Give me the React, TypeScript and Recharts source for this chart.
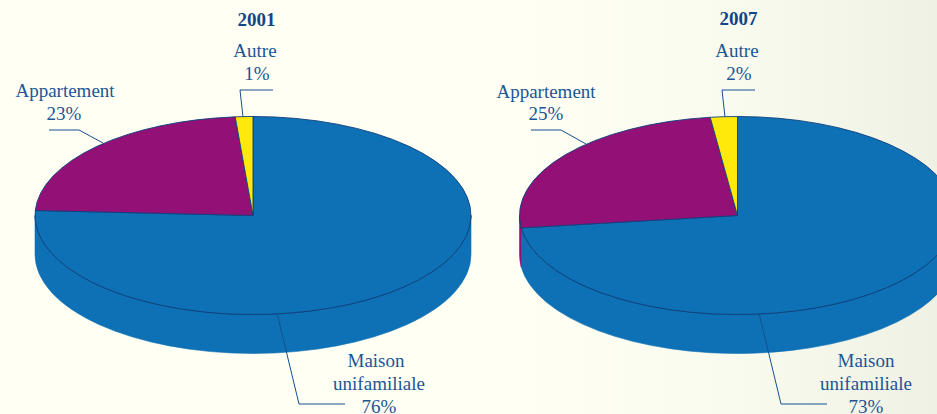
import { PieChart, Pie, Cell } from "recharts";

const CATEGORIES = ["Maison unifamiliale", "Appartement", "Autre"];
// slice sizes as measured on the picture; the printed labels are the rounded values
const VALUES_2001 = [75.8, 22.9, 1.3];
const VALUES_2007 = [73, 25, 2];
const COLORS = ["#0f71b5", "#931077", "#ffe90a"];

const data2001 = CATEGORIES.map((name, i) => ({ name, value: VALUES_2001[i] }));
const data2007 = CATEGORIES.map((name, i) => ({ name, value: VALUES_2007[i] }));

const TEXT_BLUE = "#1c5594";
const LINE_BLUE = "#14508f";
const EDGE = "#0d3f7c";
const FONT = "'Liberation Serif', serif";
const TILT = 99 / 218;
const DEPTH = 39;

// label text + leader line placement, by category index
const LABELS_2001 = [
  { lines: [["Maison", 376, 367], ["unifamiliale", 379, 390], ["76%", 379, 413]], leader: "277,313 299,404 345,404" },
  { lines: [["Appartement", 65, 97], ["23%", 64, 120]], leader: "49,130 79,130 103,143" },
  { lines: [["Autre", 255, 57], ["1%", 257, 80]], leader: "243,117 240,90 273,90" },
];
const LABELS_2007 = [
  { lines: [["Maison", 866, 367], ["unifamiliale", 866, 390], ["73%", 866, 413]], leader: "759,313 781,404 827,404" },
  { lines: [["Appartement", 546, 98], ["25%", 546, 120]], leader: "531,130 561,130 586,144" },
  { lines: [["Autre", 737, 57], ["2%", 739, 80]], leader: "725,117 722,90 755,90" },
];

// flattened 3D slice: top face is an ellipse sector, front rim is extruded down
function Slice3D(props: any) {
  const { cx, cy, outerRadius, startAngle, endAngle, fill } = props;
  const rx = outerRadius;
  const ry = outerRadius * TILT;
  const pt = (a: number, dy = 0) => {
    const r = (a * Math.PI) / 180;
    return `${(cx + rx * Math.cos(r)).toFixed(2)} ${(cy - ry * Math.sin(r) + dy).toFixed(2)}`;
  };
  const large = Math.abs(startAngle - endAngle) > 180 ? 1 : 0;
  const top = `M${cx} ${cy} L${pt(startAngle)} A${rx} ${ry} 0 ${large} 1 ${pt(endAngle)} Z`;

  // part of the slice that faces the viewer (angles 0 .. -180)
  const from = Math.min(startAngle, 0);
  const to = Math.max(endAngle, -180);
  const side =
    from > to
      ? `M${pt(from)} A${rx} ${ry} 0 0 1 ${pt(to)} L${pt(to, DEPTH)} A${rx} ${ry} 0 0 0 ${pt(from, DEPTH)} Z`
      : null;

  return (
    <g>
      {side && <path d={side} fill={fill} stroke={fill} strokeWidth={0.6} />}
      {side && <path d={`M${pt(from)} A${rx} ${ry} 0 0 1 ${pt(to)}`} fill="none" stroke={EDGE} strokeWidth={0.8} />}
      <path d={top} fill={fill} stroke={EDGE} strokeWidth={0.9} strokeLinejoin="round" />
    </g>
  );
}

const makeLabel = (table: typeof LABELS_2001) => (props: any) => {
  const item = table[props.index];
  return (
    <g key={props.index}>
      <polyline points={item.leader} fill="none" stroke={LINE_BLUE} strokeWidth={1} />
      {item.lines.map(([t, x, y]) => (
        <text key={t as string} x={x as number} y={y as number} textAnchor="middle" fontFamily={FONT} fontSize={19} fill={TEXT_BLUE}>
          {t}
        </text>
      ))}
    </g>
  );
};

export default function App() {
  return (
    <div
      style={{
        position: "fixed",
        left: 0,
        top: 0,
        width: 937,
        height: 414,
        overflow: "hidden",
        background: "linear-gradient(90deg, #fffff4 0%, #fffff4 55%, #fafbef 78%, #eef1e4 100%)",
      }}
    >
      <PieChart width={937} height={414} margin={{ top: 0, right: 0, bottom: 0, left: 0 }}>
        <text x={256.5} y={26} textAnchor="middle" fontFamily={FONT} fontWeight="bold" fontSize={19} fill="#0f4785">2001</text>
        <text x={738.5} y={25} textAnchor="middle" fontFamily={FONT} fontWeight="bold" fontSize={19} fill="#0f4785">2007</text>
        <Pie
          data={data2001}
          dataKey="value"
          nameKey="name"
          cx={253}
          cy={215.5}
          outerRadius={218}
          innerRadius={0}
          startAngle={90}
          endAngle={-270}
          shape={Slice3D}
          label={makeLabel(LABELS_2001)}
          labelLine={false}
          isAnimationActive={false}
        >
          {data2001.map((d, i) => (
            <Cell key={d.name} fill={COLORS[i]} />
          ))}
        </Pie>
        <Pie
          data={data2007}
          dataKey="value"
          nameKey="name"
          cx={737.5}
          cy={215.5}
          outerRadius={218}
          innerRadius={0}
          startAngle={90}
          endAngle={-270}
          shape={Slice3D}
          label={makeLabel(LABELS_2007)}
          labelLine={false}
          isAnimationActive={false}
        >
          {data2007.map((d, i) => (
            <Cell key={d.name} fill={COLORS[i]} />
          ))}
        </Pie>
      </PieChart>
    </div>
  );
}
